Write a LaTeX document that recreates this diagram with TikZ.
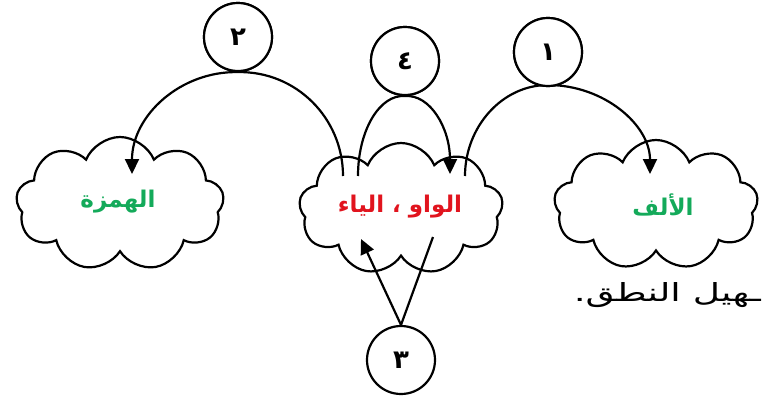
\documentclass[tikz,border=0pt]{standalone}
\usepackage{fontspec}
\usetikzlibrary{shapes.symbols,arrows.meta}
\TeXXeTstate=1
\newfontfamily\arabicfont[Script=Arabic]{DejaVu Sans}
\definecolor{wordgreen}{RGB}{20,170,90}
\definecolor{wordred}{RGB}{225,20,30}
\tikzset{
  line/.style={line width=2.2pt, black},
  arr/.style={line, -{Triangle[length=15pt,width=14pt]}},
  numcircle/.style={circle, draw, line width=2.2pt, fill=white, minimum size=68pt, inner sep=0pt,
    font=\arabicfont\bfseries\fontsize{26}{30}\selectfont},
  thought/.style={cloud, draw, line width=2.2pt, cloud puffs=9, cloud puff arc=135, aspect=1.55},
  word/.style={font=\arabicfont\bfseries\fontsize{23}{27}\selectfont, inner sep=0pt},
}
\begin{document}
\begin{tikzpicture}[x=1pt,y=-1pt]
\useasboundingbox (0,0) rectangle (763,399);
% clouds
\node[thought, minimum width=208pt, minimum height=134pt] (hamza) at (120,204) {};
\node[thought, minimum width=204pt, minimum height=132pt] (waw) at (401,209) {};
\node[thought, minimum width=204pt, minimum height=130pt] (alif) at (656,205) {};
% words
\node[word, text=wordgreen] (thamza) at (118,202) {\beginR الهمزة\endR};
\node[word, text=wordred] (twaw) at (400,207) {\beginR الواو ، الياء\endR};
\node[word, text=wordgreen] (talif) at (663,205) {\beginR الألف\endR};
% numbered circles
\node[numcircle] (c2) at (238,37) {\beginR ٢\endR};
\node[numcircle] (c4) at (405,61) {\beginR ٤\endR};
\node[numcircle] (c1) at (548,52) {\beginR ١\endR};
\node[numcircle] (c3) at (401,360) {\beginR ٣\endR};
% connector end points
\coordinate (s2) at (343,176);
\coordinate (e2) at (132,174);
\coordinate (s4) at (358,176);
\coordinate (e4) at (450,174);
\coordinate (s1) at (465,176);
\coordinate (e1) at (650,174);
\coordinate (e3a) at (361,239);
\coordinate (e3b) at (433,237);
% arcs
\draw[arr] (s2) .. controls (343,118) and (296,71) .. (c2.south) .. controls (180,71) and (132,116) .. (e2);
\draw[arr] (s4) .. controls (358,130) and (380,94) .. (c4.south) .. controls (430,94) and (450,128) .. (e4);
\draw[arr] (s1) .. controls (465,127) and (502,85) .. (548,85) .. controls (604,85) and (650,125) .. (e1);
\draw[arr] (c3.north) -- (e3a);
\draw[line] (c3.north) -- (e3b);
% redraw circles above arcs
\node[numcircle] at (c2) {\beginR ٢\endR};
\node[numcircle] at (c4) {\beginR ٤\endR};
\node[numcircle] at (c1) {\beginR ١\endR};
% trailing text
\node[anchor=east, inner sep=0pt, font=\arabicfont\fontsize{25}{30}\selectfont] (tail) at (761,295) {\scalebox{1.5}[1]{\beginR ـهيل النطق.\endR}};
\end{tikzpicture}
\end{document}
